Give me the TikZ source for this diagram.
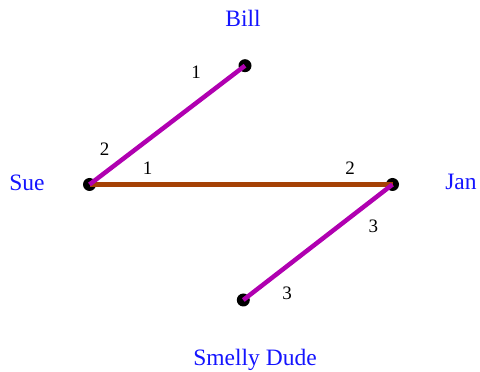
\documentclass[tikz,border=0pt]{standalone}
\usepackage{fontspec}
\setmainfont{Liberation Serif}
\definecolor{namecol}{RGB}{20,20,255}
\definecolor{edgeA}{RGB}{176,0,176}
\definecolor{edgeB}{RGB}{165,65,5}
\begin{document}
\begin{tikzpicture}[x=1pt,y=1pt,
  vert/.style={circle,fill=black,inner sep=0pt,minimum size=13pt},
  namelbl/.style={text=namecol,font=\fontsize{23.5}{24}\selectfont,inner sep=0pt,anchor=base},
  numlbl/.style={font=\fontsize{19}{19}\selectfont,inner sep=0pt,anchor=base},
  magedge/.style={draw=edgeA,line width=4.5pt},
  brnedge/.style={draw=edgeB,line width=4.5pt}]
\useasboundingbox (0,0) rectangle (480,372);
\node[vert] (bill) at (245,306.3) {};
\node[vert] (sue) at (89.5,187.5) {};
\node[vert] (jan) at (392.5,187.5) {};
\node[vert] (dude) at (243.3,72) {};
\draw[brnedge] (sue.center) -- (jan.center);
\draw[magedge] (sue.center) -- (bill.center);
\draw[magedge] (jan.center) -- (dude.center);
\node[namelbl] (lbill) at (243,345.5) {Bill};
\node[namelbl] (lsue) at (27,181.5) {Sue};
\node[namelbl] (ljan) at (461,182.5) {Jan};
\node[namelbl] (ldude) at (255,6) {Smelly Dude};
\node[numlbl] (n1) at (196,293) {1};
\node[numlbl] (n2) at (104.7,216) {2};
\node[numlbl] (n3) at (147.5,197) {1};
\node[numlbl] (n4) at (350,197) {2};
\node[numlbl] (n5) at (373.3,139) {3};
\node[numlbl] (n6) at (287,72) {3};
\end{tikzpicture}
\end{document}
